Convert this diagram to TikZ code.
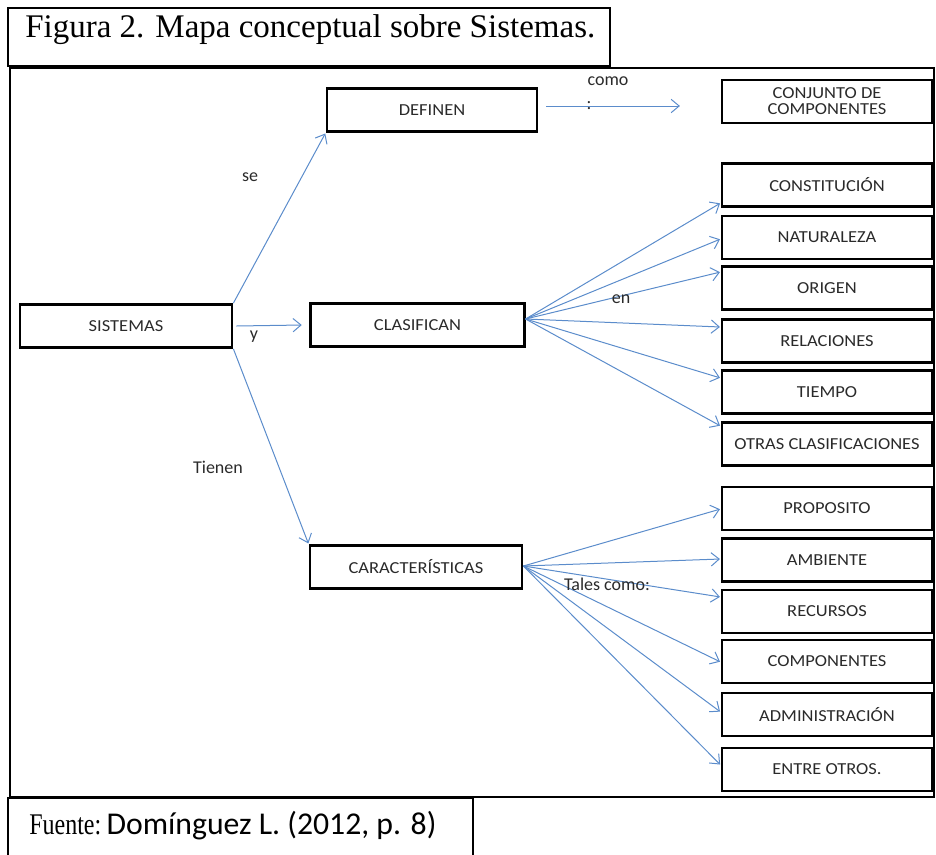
\documentclass[tikz,border=0pt]{standalone}
\usepackage{fontspec}
\usepackage{graphicx}
\setmainfont{Carlito}
\newfontfamily\tnr{Liberation Serif}
\newfontfamily\boxfont[FakeStretch=1.1]{Carlito}
\usetikzlibrary{arrows.meta,calc}
\definecolor{arrblue}{HTML}{5B8CCB}
\definecolor{txtgrey}{HTML}{2A2A2A}
\tikzset{
  box/.style={draw=black, line width=2.1pt, minimum height=32.25pt, inner sep=0pt, align=center, text=txtgrey, font=\boxfont\fontsize{12.6}{15}\selectfont},
  rbox/.style={box, minimum width=157.5pt},
  lbox/.style={box, minimum width=159pt},
  conn/.style={arrblue, line width=0.75pt, shorten >=0.5pt, -{Straight Barb[length=6pt,width=10pt,line width=0.75pt]}},
  lbl/.style={inner sep=0pt, text=txtgrey, font=\fontsize{13.5}{15}\selectfont},
  frame/.style={draw=black, line width=1.6pt}
}
\begin{document}
\begin{tikzpicture}[x=0.75pt,y=-0.75pt]
\useasboundingbox (0,0) rectangle (936,854);
% frames
\draw[frame] (8,8) rectangle (610,66);
\draw[frame] (10,68) rectangle (934,797);
\draw[frame, line width=1.2pt] (8,856) -- (8,798) -- (473,798) -- (473,856);
\node[anchor=base west, inner sep=0pt, font=\tnr\fontsize{24.75}{28}\selectfont] (title) at (25,37) {Figura 2. Mapa conceptual sobre Sistemas.};
\node[anchor=base west, inner sep=0pt] (src) at (29,834) {{\tnr\fontsize{18}{20}\selectfont\scalebox{1}[1.25]{Fuente:}}\hspace{4pt}{\fontsize{23.8}{26}\selectfont Domínguez L. (2012, p. 8)}};
% main nodes
\node[lbox] (sis) at (126,326) {SISTEMAS};
\node[box, minimum width=157.5pt] (def) at (432,110) {DEFINEN};
\node[box, minimum width=160pt] (cla) at (417.5,325) {CLASIFICAN};
\node[lbox] (car) at (416,567) {CARACTERÍSTICAS};
% right column
\node[rbox] (conj) at (827,101.5) {CONJUNTO DE\\[-3pt]COMPONENTES};
\node[rbox] (con) at (827,185) {CONSTITUCIÓN};
\node[rbox] (nat) at (827,237.5) {NATURALEZA};
\node[rbox] (ori) at (827,288) {ORIGEN};
\node[rbox] (rel) at (827,341) {RELACIONES};
\node[rbox] (tie) at (827,392) {TIEMPO};
\node[rbox] (otr) at (827,444) {OTRAS CLASIFICACIONES};
\node[rbox] (pro) at (827,508.5) {PROPOSITO};
\node[rbox] (amb) at (827,560) {AMBIENTE};
\node[rbox] (rec) at (827,611.5) {RECURSOS};
\node[rbox] (com) at (827,661.5) {COMPONENTES};
\node[rbox] (adm) at (827,714.5) {ADMINISTRACIÓN};
\node[rbox] (ent) at (827,769.5) {ENTRE OTROS.};
% connectors
\draw[conn] (sis.north east) -- (def.south west);
\draw[conn] ($(sis.east)+(3,0)$) -- ($(cla.west)+(-7,0)$);
\draw[conn] (sis.south east) -- (car.north west);
\draw[conn] ($(def.east)+(8,-4)$) -- ($(conj.west)+(-40,4.5)$);
\coordinate (cs) at ($(cla.east)+(0,-6)$);
\draw[conn] (cs) -- ($(con.west)+(0,18)$);
\draw[conn] (cs) -- ($(nat.west)+(0,1.5)$);
\draw[conn] (cs) -- ($(ori.west)+(0,-16)$);
\draw[conn] (cs) -- ($(rel.west)+(0,-14)$);
\draw[conn] (cs) -- ($(tie.west)+(0,-14)$);
\draw[conn] (cs) -- ($(otr.west)+(0,-18)$);
\coordinate (ks) at ($(car.east)+(0,-1)$);
\draw[conn] (ks) -- ($(pro.west)+(0,0.5)$);
\draw[conn] (ks) -- ($(amb.west)+(0,-1)$);
\draw[conn] (ks) -- ($(rec.west)+(0,-14.5)$);
\draw[conn] (ks) -- ($(com.west)+(0,0.5)$);
\draw[conn] (ks) -- ($(adm.west)+(0,-2.5)$);
\draw[conn] (ks) -- ($(ent.west)+(0,-4.5)$);
% labels
\node[lbl] (lse) at (250,177) {se};
\node[lbl] (ly) at (254,337) {y};
\node[lbl] (lti) at (218,467) {Tienen};
\node[lbl] (len) at (621,299) {en};
\node[lbl] (lcomo) at (608,81) {como};
\node[lbl] (lcol) at (589,106) {:};
\node[lbl] (ltc) at (607,584) {Tales como:};
\end{tikzpicture}
\end{document}
